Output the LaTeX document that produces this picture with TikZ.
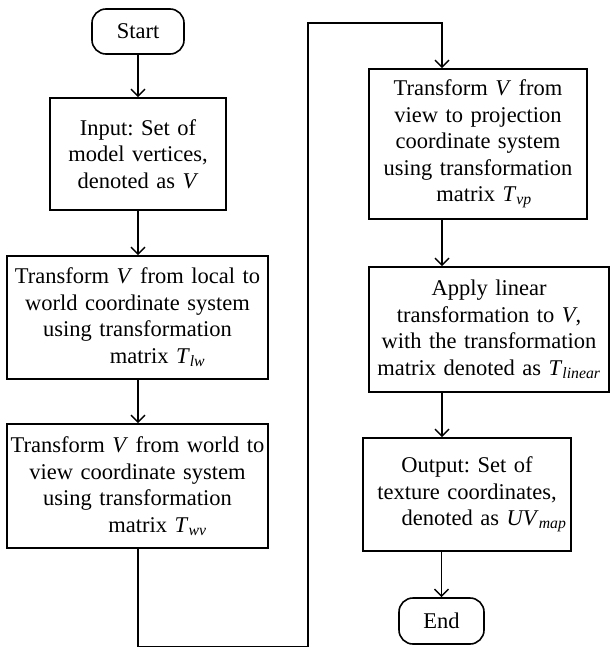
\documentclass[tikz,border=0pt]{standalone}
\usepackage{fontspec}
\setmainfont{Liberation Serif}
\usetikzlibrary{arrows.meta}
\frenchspacing
\newcommand\sbs[2]{\textit{#1}\textsubscript{\textit{#2}}}
\begin{document}
\begin{tikzpicture}[x=1pt,y=-1pt,
  box/.style={draw, line width=1.6pt, inner sep=0pt, align=center,
    font=\fontsize{22.5}{26.5}\selectfont},
  term/.style={box, rounded corners=14pt},
  arr/.style={line width=1.4pt, -{Straight Barb[length=7pt,width=14pt,line width=1.4pt]}}]
\useasboundingbox (0,0) rectangle (610,648);
\node[term, minimum width=92pt, minimum height=45pt] (start) at (138,31.5) {Start};
\node[box, text width=176pt, minimum height=112pt] (in) at (138,154)
  {Input: Set of\\ model vertices,\\ denoted as \textit{V}};
\node[box, text width=261pt, minimum height=123pt] (lw) at (137.5,317.5)
  {Transform \textit{V} from local to\\ world coordinate system\\ using transformation\\ \hspace*{40pt}matrix \sbs{T}{lw}};
\node[box, text width=261pt, minimum height=124pt] (wv) at (137.5,486)
  {Transform \textit{V} from world to\\ view coordinate system\\ using transformation\\ \hspace*{40pt}matrix \sbs{T}{wv}};
\node[box, text width=218pt, minimum height=150pt] (vp) at (478,144)
  {Transform \textit{V} from\\ view to projection\\ coordinate system\\ using transformation\\ \hspace*{12pt}matrix \sbs{T}{vp}};
\node[box, text width=240pt, minimum height=125pt] (lin) at (489,329.5)
  {Apply linear\\ transformation to \textit{V},\\ with the transformation\\ matrix denoted as \sbs{T}{linear}};
\node[box, text width=208pt, minimum height=113pt] (out) at (467,494.5)
  {Output: Set of\\ texture coordinates,\\ \hspace*{34pt}denoted as \sbs{UV}{map}};
\node[term, minimum width=85pt, minimum height=46pt] (end) at (441.5,621) {End};
\coordinate (c1) at (138,646.5);
\coordinate (c2) at (308,646.5);
\coordinate (c3) at (308,23);
\coordinate (c4) at (442,23);
\draw[arr] (start) -- (in);
\draw[arr] (in) -- (lw.north -| in);
\draw[arr] (lw.south -| in) -- (wv.north -| in);
\draw[arr] (wv.south -| c1) -- (c1) -- (c2) -- (c3) -- (c4) -- (vp.north -| c4);
\draw[arr] (vp.south -| c4) -- (lin.north -| c4);
\draw[arr] (lin.south -| c4) -- (out.north -| c4);
\draw[arr] (out.south -| end) -- (end);
\end{tikzpicture}
\end{document}
